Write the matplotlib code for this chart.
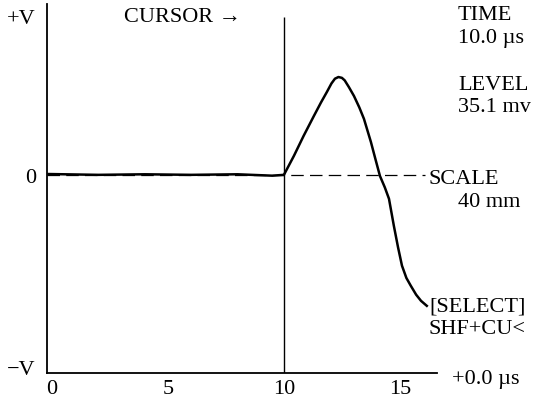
import matplotlib
matplotlib.use("Agg")
import matplotlib.pyplot as plt

plt.rcParams["font.family"] = ["Liberation Serif", "DejaVu Serif"]

# waveform after the cursor (time in us, level in mV)
pulse_t = [10.0, 10.43, 10.85, 11.29, 11.6, 11.85, 12.05, 12.2, 12.35, 12.5,
           12.62, 12.8, 13.02, 13.25, 13.45, 13.75, 13.95, 14.14, 14.35,
           14.53, 14.74, 14.92, 15.09, 15.28, 15.47, 15.7, 15.91, 16.16]
pulse_v = [0.0, 6.8, 14.0, 21.1, 26.0, 29.7, 32.8, 34.5, 35.1, 34.8,
           33.9, 31.5, 28.3, 24.2, 20.1, 11.8, 5.5, -0.4, -4.5,
           -8.6, -18.3, -26.0, -32.6, -37.0, -39.8, -43.0, -45.2, -47.0]
base_t = [-0.2, 2.0, 4.0, 6.0, 8.0, 9.5, 10.0]
base_v = [0.3, 0.0, 0.2, 0.0, 0.2, -0.3, 0.0]

cursor_t = 10.0
x_ticks = [0, 5, 10, 15]
y_ticks = [57, 0, -68.8]
y_labels = ["+V", "0", "\u2212V"]

side_text = [
    ("TIME", 458, 16), ("10.0 \u00b5s", 458, 39),
    ("LEVEL", 458, 85), ("35.1 mv", 458, 108),
    ("SCALE", 429, 180), ("40 mm", 458, 203),
    ("[SELECT]", 429, 307), ("SHF+CU<", 429, 330),
    ("+0.0 \u00b5s", 452, 380), ("CURSOR \u2192", 124, 17),
]

W, H = 544, 402
fig = plt.figure(figsize=(W / 100, H / 100), dpi=100)
ax = fig.add_axes([47 / W, (H - 374) / H, (437 - 47) / W, (374 - 5) / H])

ax.plot(base_t, base_v, color="black", lw=1.8, solid_capstyle="butt")
ax.plot([-0.2, 16.1], [0, 0], color="black", lw=0.9, dashes=(10, 5))
ax.plot(pulse_t, pulse_v, color="black", lw=1.8, solid_joinstyle="round")
ax.vlines(cursor_t, -71.1, 56.6, color="black", lw=1.0)

ax.set_xlim(-0.215, 16.6)
ax.set_ylim(-71.1, 61.3)
ax.set_xticks(x_ticks)
ax.set_xticklabels([str(t) for t in x_ticks])
ax.set_yticks(y_ticks)
ax.set_yticklabels(y_labels)
ax.tick_params(length=0, labelsize=16)
ax.tick_params(axis="x", pad=4)
ax.tick_params(axis="y", pad=8)
for side in ("top", "right"):
    ax.spines[side].set_visible(False)
for side in ("left", "bottom"):
    ax.spines[side].set_linewidth(1.3)

for label, px, py in side_text:
    fig.text(px / W, 1 - py / H, label, fontsize=16, ha="left", va="center")

fig.savefig("out.png", dpi=100)
